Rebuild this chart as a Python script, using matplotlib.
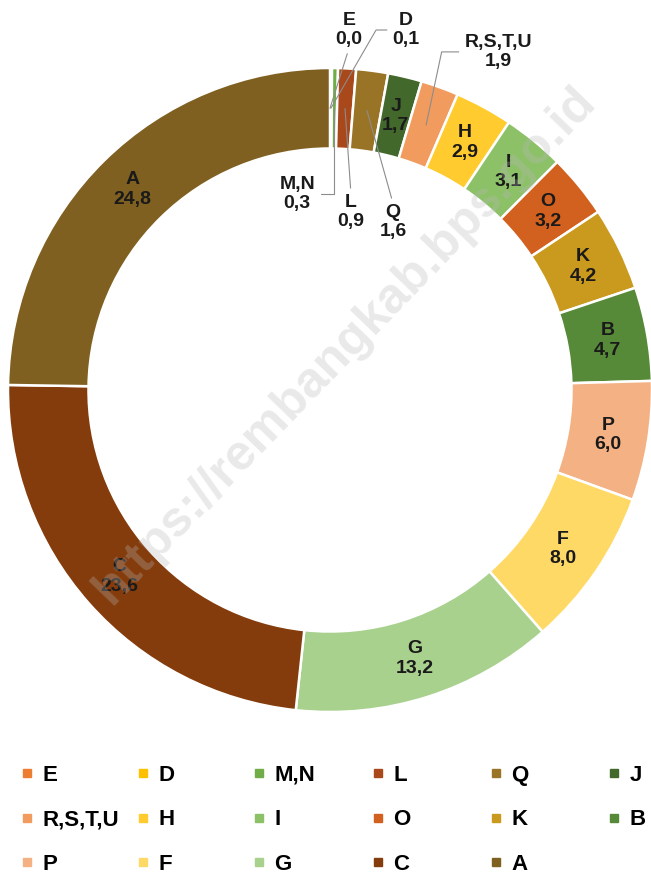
import numpy as np
import matplotlib.pyplot as plt
from matplotlib.lines import Line2D

plt.rcParams['font.family'] = ['Liberation Sans', 'DejaVu Sans']

"""Data, clockwise from the top of the ring."""
sectors = ['E', 'D', 'M,N', 'L', 'Q', 'J', 'R,S,T,U', 'H', 'I', 'O', 'K',
           'B', 'P', 'F', 'G', 'C', 'A']
shares = [0.0, 0.1, 0.3, 0.9, 1.6, 1.7, 1.9, 2.9, 3.1, 3.2, 4.2,
          4.7, 6.0, 8.0, 13.2, 23.6, 24.8]
colours = ['#ED7D31', '#FFC000', '#70AD47', '#A9481A', '#9A7426', '#43682B',
           '#F29B5E', '#FFCB2E', '#8CC168', '#D2601E', '#C99A1E', '#568A38',
           '#F4B183', '#FFD966', '#A9D18E', '#843C0C', '#7F6020']

"""Small slices get their label outside the ring with a leader line:
text position (data units), side of the text the line leaves from, connection."""
outside = {
    'E': ((0.059, 1.118), (0.5, 0.0), 'arc3'),
    'D': ((0.236, 1.118), (0.0, 0.5), 'angle,angleA=0,angleB=60,rad=0'),
    'R,S,T,U': ((0.522, 1.050), (0.0, 0.5), 'angle,angleA=0,angleB=78,rad=0'),
    'M,N': ((-0.102, 0.609), (1.0, 0.5), 'angle,angleA=0,angleB=90,rad=0'),
    'L': ((0.065, 0.553), (0.5, 1.0), 'arc3'),
    'Q': ((0.196, 0.522), (0.5, 1.0), 'arc3'),
}

def fmt(v):
    return ('%.1f' % v).replace('.', ',')

fig = plt.figure(figsize=(6.51, 8.8), dpi=100)
ax = fig.add_axes([8/651, 168/880, 644/651, 644/880])

wedges, _ = ax.pie(shares, colors=colours, startangle=90, counterclock=False,
                   radius=1, wedgeprops=dict(width=0.25, edgecolor='white', linewidth=1.8))
ax.set_xlim(-1, 1)
ax.set_ylim(-1, 1)
ax.set_aspect('equal')
ax.axis('off')

rmid = 0.875
for w, name, v in zip(wedges, sectors, shares):
    ang = np.deg2rad((w.theta1 + w.theta2) / 2)
    px, py = rmid*np.cos(ang), rmid*np.sin(ang)
    txt = name + '\n' + fmt(v)
    if name in outside:
        pos, rel, conn = outside[name]
        ax.annotate(txt, xy=(px, py), xytext=pos, ha='center', va='center',
                    fontsize=14, fontweight='bold', color='#1a1a1a',
                    annotation_clip=False,
                    arrowprops=dict(arrowstyle='-', color='#8c8c8c', lw=0.8,
                                    relpos=rel, connectionstyle=conn,
                                    shrinkA=2, shrinkB=0))
    else:
        ax.text(px, py, txt, ha='center', va='center', fontsize=14,
                fontweight='bold', color='#1a1a1a')

"""Legend: six equal columns, rows read left to right."""
col_left = [20, 136, 252, 371, 489, 607]
for c in range(6):
    names = sectors[c::6]
    handles = [Line2D([], [], marker='s', markersize=6, linestyle='none',
                      color=colours[sectors.index(n)]) for n in names]
    fig.legend(handles, names, loc='upper left',
               bbox_to_anchor=(col_left[c]/651, 1 - 765/880),
               frameon=False, borderpad=0, borderaxespad=0,
               handlelength=0.6, handletextpad=0.4, labelspacing=1.05,
               prop=dict(size=16, weight='bold'))

"""Watermark."""
fig.text(0.53, 0.608, 'https://rembangkab.bps.go.id', rotation=46,
         rotation_mode='anchor', ha='center', va='center', fontsize=36,
         fontweight='bold', color='#b8b8b8', alpha=0.3, zorder=10)

plt.savefig('out.png', dpi=100)
